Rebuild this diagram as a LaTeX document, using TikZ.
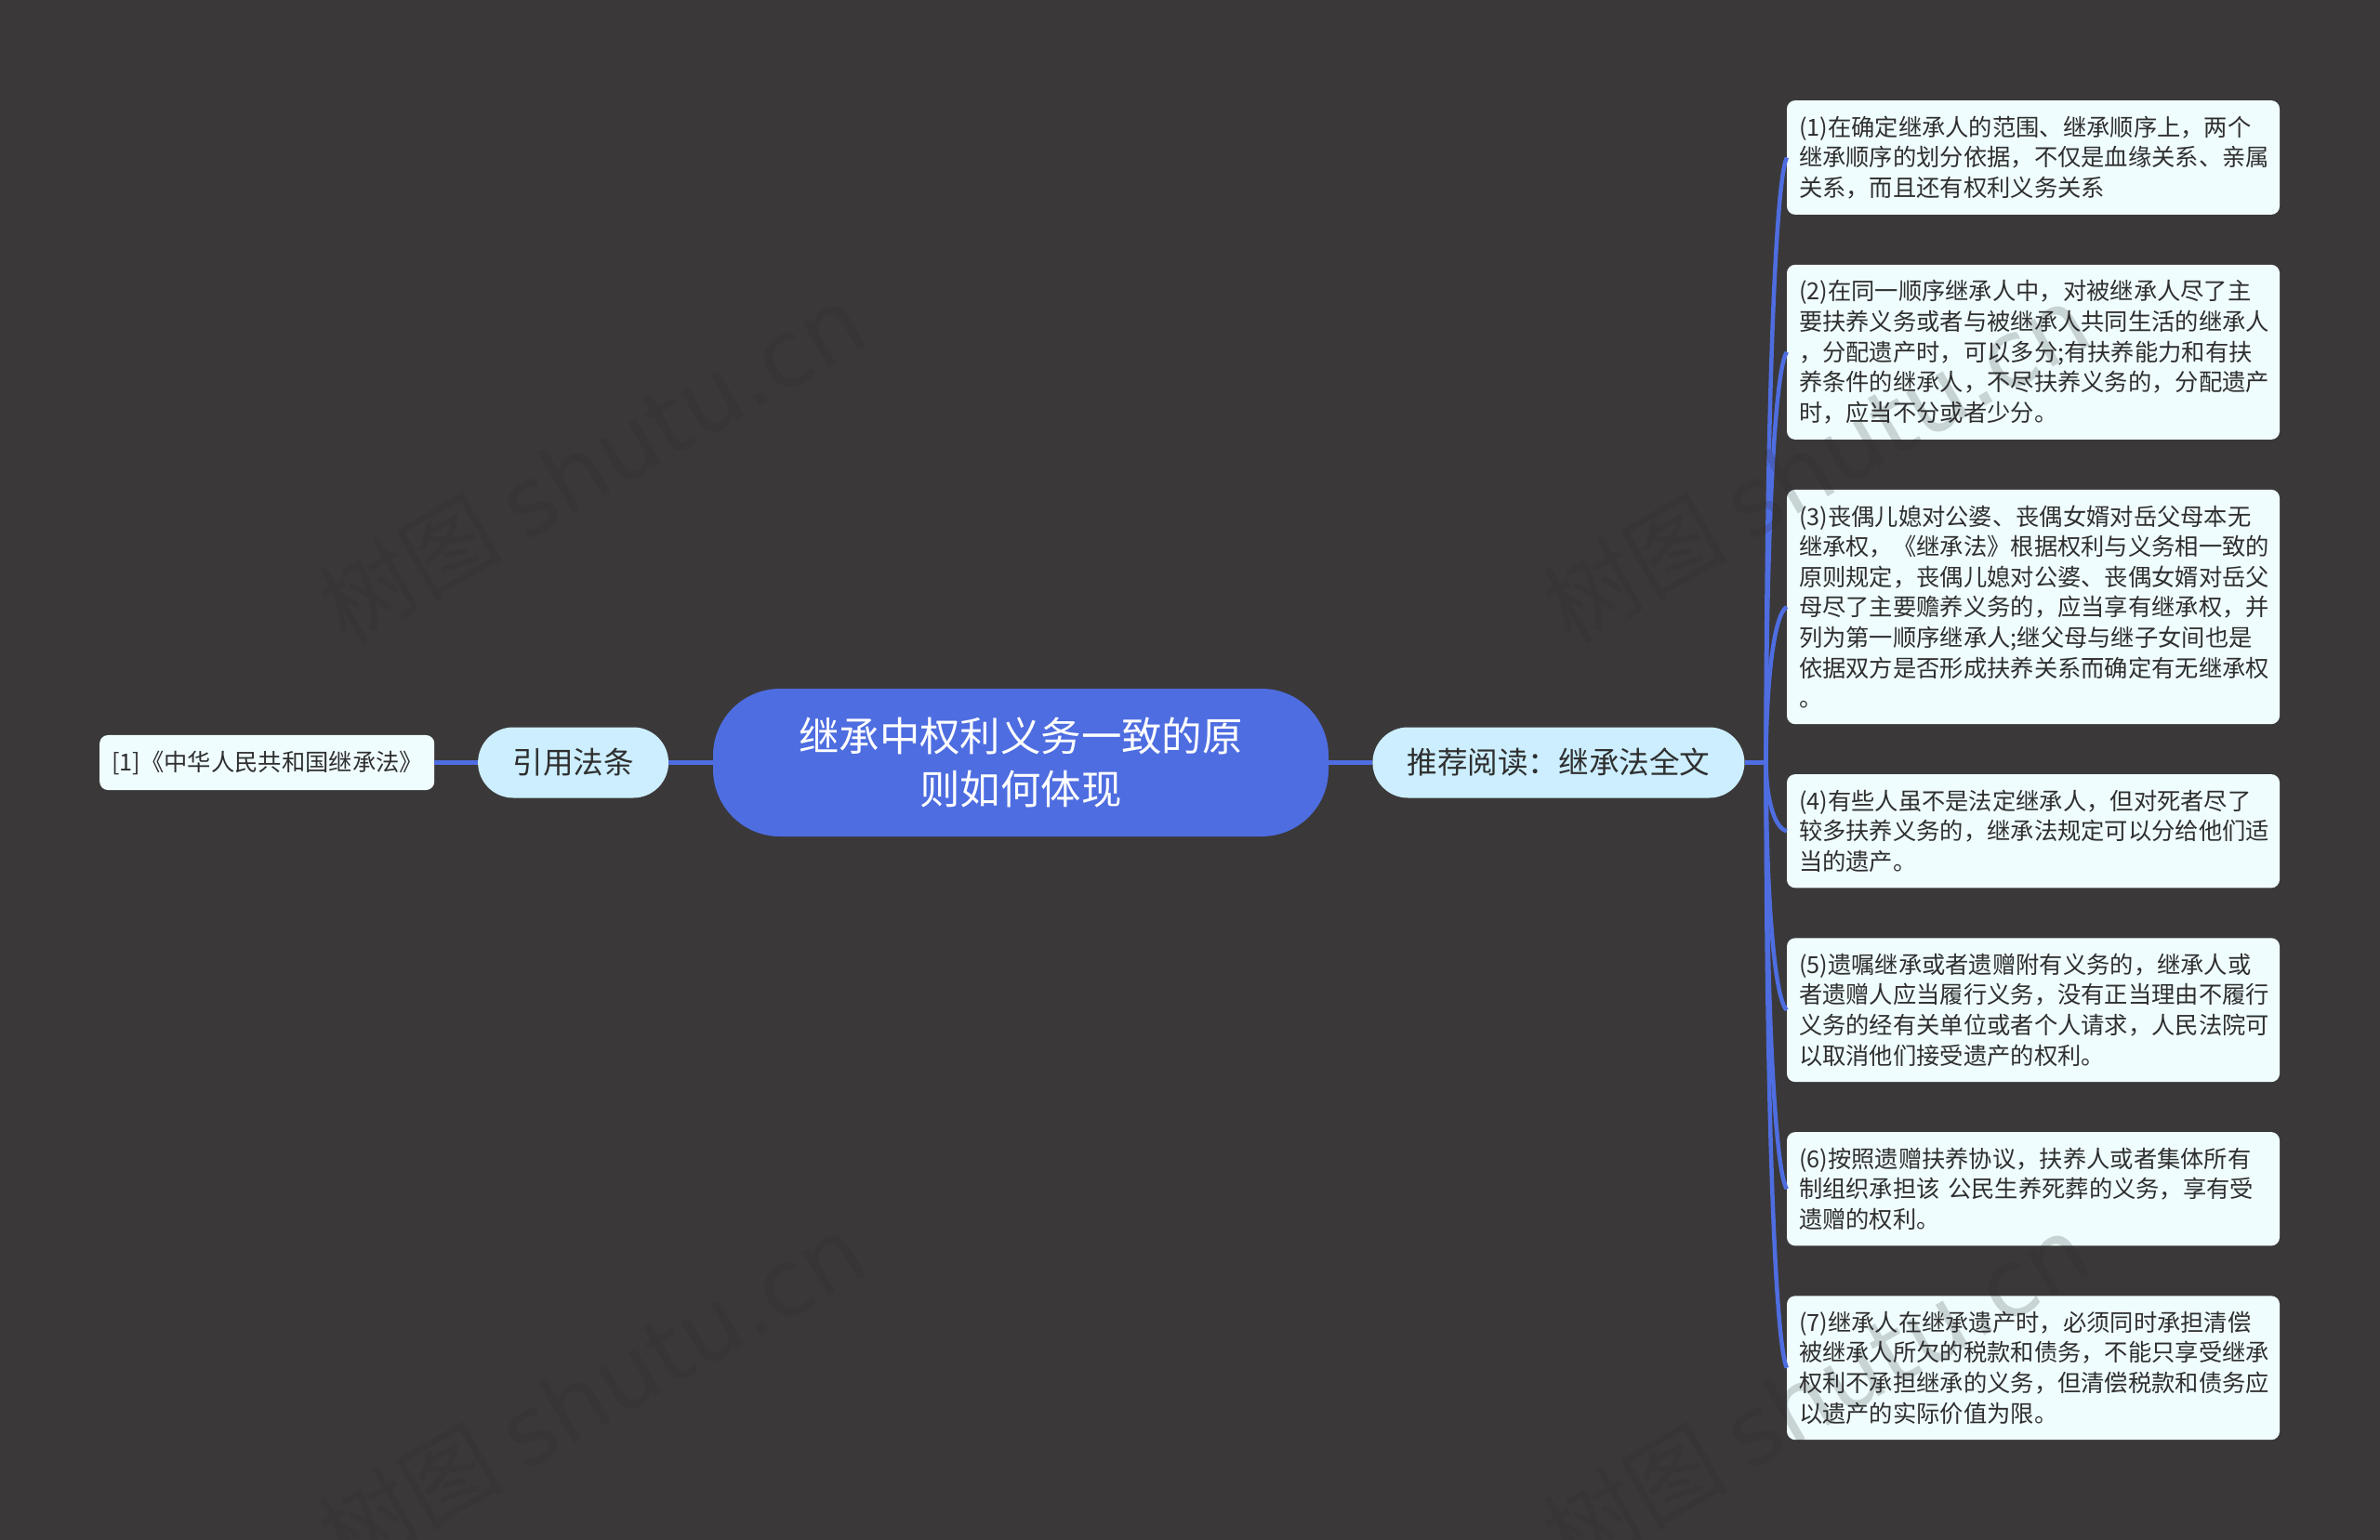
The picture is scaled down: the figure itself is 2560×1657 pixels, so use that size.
\documentclass[tikz,border=0pt]{standalone}
\usepackage{fontspec}
\setmainfont{Noto Sans CJK SC}
\newfontfamily\wmfont{DejaVu Sans}
\usetikzlibrary{positioning}
\definecolor{pagebg}{HTML}{3A3839}
\definecolor{linkblue}{HTML}{4E6DE0}
\definecolor{pillfill}{HTML}{CCEEFF}
\definecolor{leaffill}{HTML}{F0FDFF}
\definecolor{inktext}{HTML}{2F2F2F}
\definecolor{wmarkink}{HTML}{2B2B2B}

\begin{document}
\begin{tikzpicture}[
		x=1pt,y=1pt,
		node distance=47pt,
		rootbox/.style={fill=linkblue,text=white,rounded corners=72pt,minimum width=662pt,minimum height=159pt,inner sep=0pt,align=center,font=\fontsize{43.4}{57}\selectfont},
		pillbox/.style={fill=pillfill,text=inktext,rounded corners=38pt,minimum height=76pt,inner sep=0pt,font=\fontsize{32.6}{40}\selectfont},
		leafbox/.style={fill=leaffill,text=inktext,rounded corners=9pt,text width=504pt,inner xsep=13pt,inner ysep=16.7pt,align=left,font=\fontsize{25.3}{32.65}\selectfont},
		link/.style={draw=linkblue,line width=4.5pt},
		wmark/.style={text=wmarkink,text opacity=0.2,rotate=30,anchor=base west,inner sep=0pt,font=\fontsize{100}{100}\selectfont}
		]
		\useasboundingbox (0,0) rectangle (2560,-1657);
		\fill[pagebg] (0,0) rectangle (2560,-1657);

		\node[rootbox] (root) at (1098,-820.5) {继承中权利义务一致的原\\则如何体现};
		\node[pillbox,minimum width=205pt,left=47.5pt of root] (cite) {引用法条};
		\node[pillbox,minimum width=400pt,right=47pt of root] (more) {推荐阅读：继承法全文};
		\node[leafbox,text width=334pt,left=46.5pt of cite] (law) {[1]《中华人民共和国继承法》};
		\coordinate[right=23pt of more] (hub);

		\node[leafbox] (e1) at (2187,-169.5) {(1)在确定继承人的范围、继承顺序上，两个\\继承顺序的划分依据，不仅是血缘关系、亲属\\关系，而且还有权利义务关系};
		\node[leafbox,below=53.5pt of e1] (e2) {(2)在同一顺序继承人中，对被继承人尽了主\\要扶养义务或者与被继承人共同生活的继承人\\，分配遗产时，可以多分;有扶养能力和有扶\\养条件的继承人，不尽扶养义务的，分配遗产\\时，应当不分或者少分。};
		\node[leafbox,below=53.5pt of e2] (e3) {(3)丧偶儿媳对公婆、丧偶女婿对岳父母本无\\继承权，《继承法》根据权利与义务相一致的\\原则规定，丧偶儿媳对公婆、丧偶女婿对岳父\\母尽了主要赡养义务的，应当享有继承权，并\\列为第一顺序继承人;继父母与继子女间也是\\依据双方是否形成扶养关系而确定有无继承权\\。};
		\node[leafbox,below=53.5pt of e3] (e4) {(4)有些人虽不是法定继承人，但对死者尽了\\较多扶养义务的，继承法规定可以分给他们适\\当的遗产。};
		\node[leafbox,below=53.5pt of e4] (e5) {(5)遗嘱继承或者遗赠附有义务的，继承人或\\者遗赠人应当履行义务，没有正当理由不履行\\义务的经有关单位或者个人请求，人民法院可\\以取消他们接受遗产的权利。};
		\node[leafbox,below=53.5pt of e5] (e6) {(6)按照遗赠扶养协议，扶养人或者集体所有\\制组织承担该 公民生养死葬的义务，享有受\\遗赠的权利。};
		\node[leafbox,below=53.5pt of e6] (e7) {(7)继承人在继承遗产时，必须同时承担清偿\\被继承人所欠的税款和债务，不能只享受继承\\权利不承担继承的义务，但清偿税款和债务应\\以遗产的实际价值为限。};

		\draw[link] (law) -- (cite);
		\draw[link] (cite) -- (root);
		\draw[link] (root) -- (more);
		\draw[link] (more) -- (hub);
		\foreach \leaf/\rise in {e1/650,e2/442,e3/168,e4/-73,e5/-267,e6/-458,e7/-653}
			\draw[link] (hub) .. controls +(0,0.5*\rise) and +(-14,-0.05*\rise) .. (\leaf.west);

		\node[wmark] (wm1) at (372,-695) {树图 {\wmfont shutu.cn}};
		\node[wmark] (wm2) at (1689,-695) {树图 {\wmfont shutu.cn}};
		\node[wmark] (wm3) at (372,-1695) {树图 {\wmfont shutu.cn}};
		\node[wmark] (wm4) at (1689,-1695) {树图 {\wmfont shutu.cn}};
		\end{tikzpicture}
\end{document}
